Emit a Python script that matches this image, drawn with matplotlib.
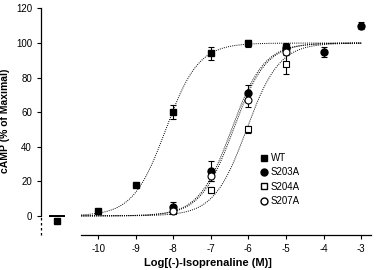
import numpy as np
import matplotlib
matplotlib.use("Agg")
import matplotlib.pyplot as plt

plt.rcParams['font.family'] = ['Liberation Sans', 'DejaVu Sans']

# log concentrations (basal point plotted at -11.1)
basal_x = -11.1
wt_x = [-10, -9, -8, -7, -6, -5]
wt_y = [3, 18, 60, 94, 100, 98]
wt_err = [1, 1, 4, 4, 2, 2]
wt_basal = -3

s203a_x = [-8, -7, -6, -5, -4, -3]
s203a_y = [5, 26, 71, 97, 95, 110]
s203a_err = [3, 6, 5, 2, 3, 2]

s204a_x = [-8, -7, -6, -5]
s204a_y = [3, 15, 50, 88]
s204a_err = [1, 2, 2, 6]

s207a_x = [-8, -7, -6, -5]
s207a_y = [3, 23, 67, 95]
s207a_err = [1, 3, 4, 2]

# fitted curve parameters: logEC50
wt_ec50 = -8.2
s203a_ec50 = -6.45
s204a_ec50 = -6.05
s207a_ec50 = -6.4

xticks = [-10, -9, -8, -7, -6, -5, -4, -3]
yticks = [0, 20, 40, 60, 80, 100, 120]

fig = plt.figure(figsize=(3.8, 2.7), dpi=100)
ax = fig.add_axes([0.108, 0.13, 0.877, 0.845])

def curve(ec50, x):
    return 100.0 / (1 + 10 ** (ec50 - x))

xs = np.linspace(-10.45, -3, 300)
for ec in [wt_ec50, s203a_ec50, s204a_ec50, s207a_ec50]:
    ax.plot(xs, curve(ec, xs), color='black', lw=0.7, ls=(0, (1, 1.2)))
    ax.plot([-11.3, -10.9], [curve(ec, -10.45)] * 2, color='black', lw=0.7)

ek = dict(ecolor='black', elinewidth=0.8, capsize=2.5, capthick=0.8, ls='none', color='black')
ax.errorbar(wt_x, wt_y, yerr=wt_err, marker='s', ms=5, mfc='black', mec='black', **ek)
ax.errorbar(s203a_x, s203a_y, yerr=s203a_err, marker='o', ms=5, mfc='black', mec='black', **ek)
ax.errorbar(s204a_x, s204a_y, yerr=s204a_err, marker='s', ms=5, mfc='white', mec='black', mew=0.8, **ek)
ax.errorbar(s207a_x, s207a_y, yerr=s207a_err, marker='o', ms=5, mfc='white', mec='black', mew=0.8, **ek)
ax.plot([basal_x], [wt_basal], marker='s', ms=5, color='black', ls='none')

ax.set_xlim(-11.52, -2.65)
ax.set_ylim(-11, 121)
ax.spines['top'].set_visible(False)
ax.spines['right'].set_visible(False)
ax.spines['bottom'].set_bounds(-10.45, -2.75)
ax.spines['left'].set_bounds(0, 120)
ax.spines['left'].set_linewidth(0.9)
ax.spines['bottom'].set_linewidth(0.9)
ax.plot([-11.52, -11.52], [-11, 0], color='black', lw=0.9, ls=(0, (2, 2)), clip_on=False)

ax.set_xticks(xticks)
ax.set_xticklabels([str(t) for t in xticks])
ax.set_yticks(yticks)
ax.set_yticklabels([str(t) for t in yticks])
ax.tick_params(axis='both', labelsize=7, length=3, width=0.8, direction='out')

ax.set_xlabel('Log[(-)-Isoprenaline (M)]', fontsize=8, fontweight='bold', labelpad=3)
ax.set_ylabel('cAMP (% of Maximal)', fontsize=7.5, fontweight='bold', labelpad=4)

from matplotlib.lines import Line2D
handles = [Line2D([], [], marker='s', color='black', ls='none', ms=5),
           Line2D([], [], marker='o', color='black', ls='none', ms=5),
           Line2D([], [], marker='s', mfc='white', mec='black', ls='none', ms=5),
           Line2D([], [], marker='o', mfc='white', mec='black', ls='none', ms=5)]
ax.legend(handles, ['WT', 'S203A', 'S204A', 'S207A'], loc='upper left',
          bbox_to_anchor=(0.645, 0.38), frameon=False, fontsize=7,
          handlelength=0.6, handletextpad=0.4, labelspacing=0.45, borderpad=0)

fig.savefig('out.png', dpi=100)
